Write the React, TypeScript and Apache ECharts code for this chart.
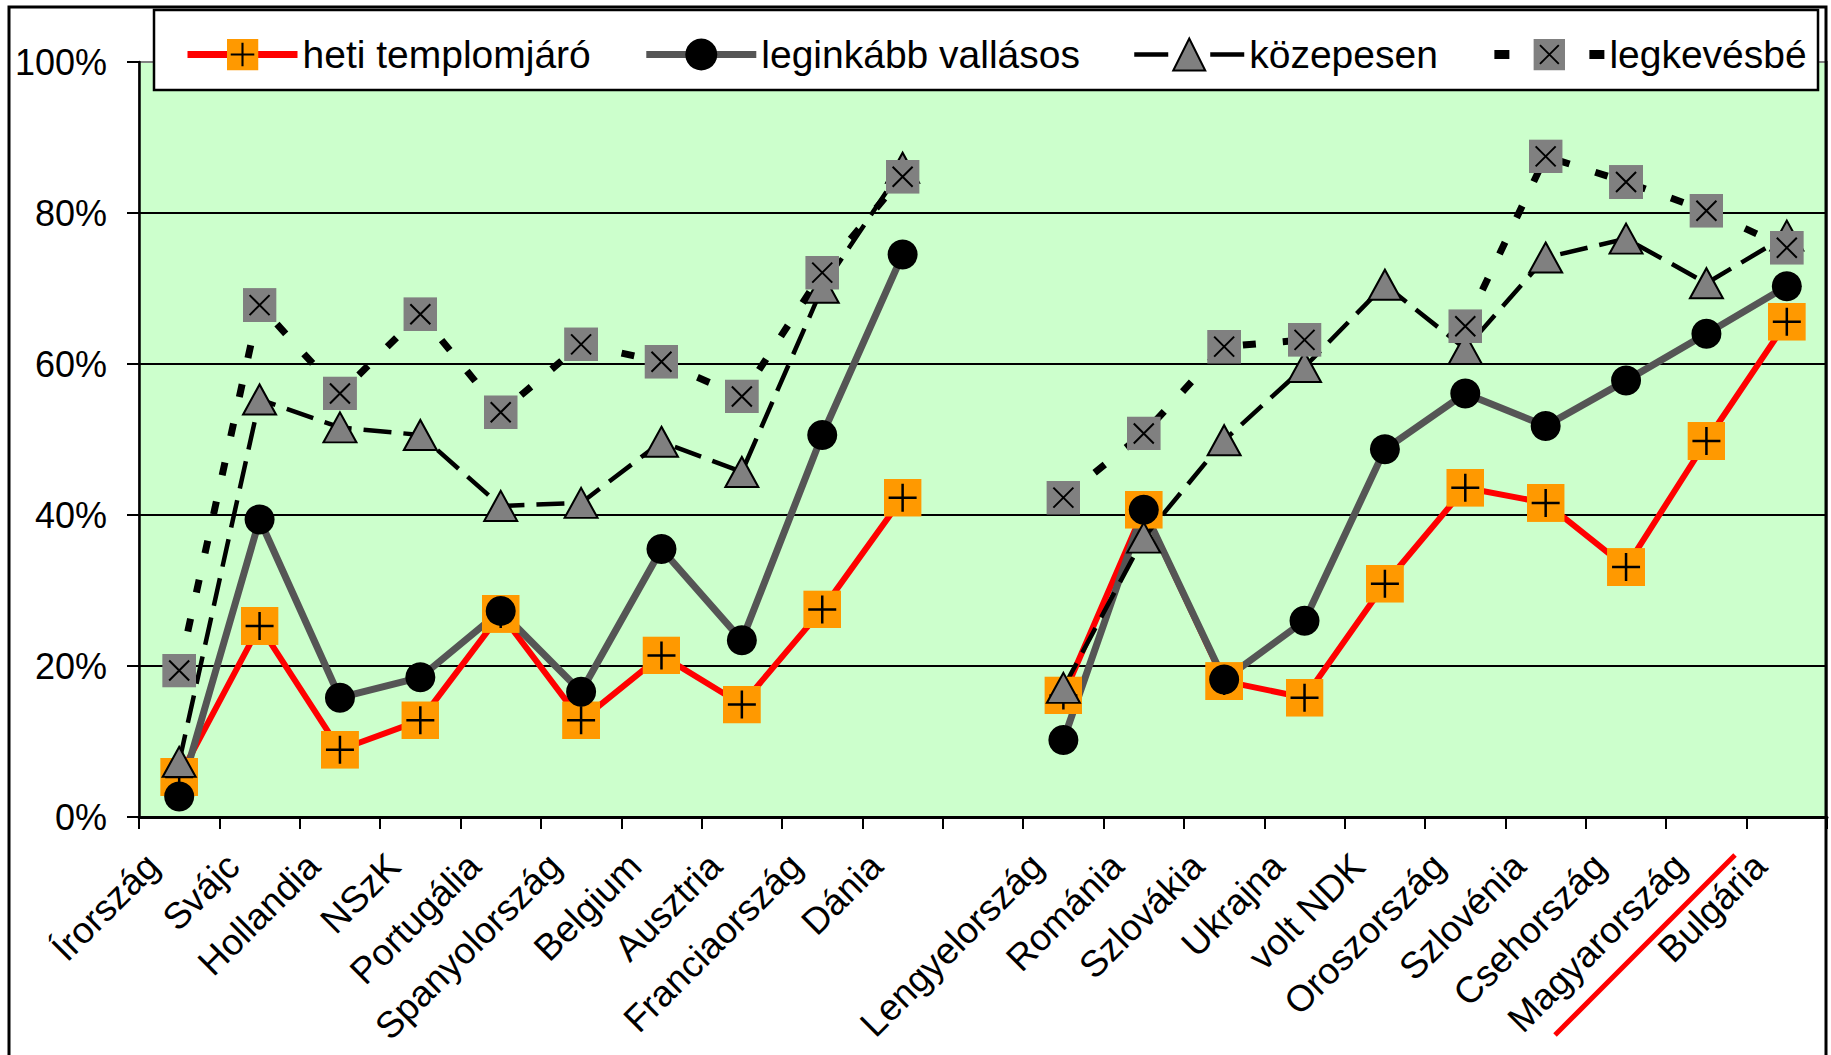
import React, { useEffect, useRef } from 'react';
import * as echarts from 'echarts';

const FONT = '"Liberation Sans", Arial, sans-serif';

const categories = [
  'Írország', 'Svájc', 'Hollandia', 'NSzK', 'Portugália', 'Spanyolország', 'Belgium', 'Ausztria',
  'Franciaország', 'Dánia', '', 'Lengyelország', 'Románia', 'Szlovákia', 'Ukrajna', 'volt NDK',
  'Oroszország', 'Szlovénia', 'Csehország', 'Magyarország', 'Bulgária',
];

const seriesNames = ['heti templomjáró', 'leginkább vallásos', 'közepesen', 'legkevésbé'];

const hetiTemplomjaro = [5.3, 25.3, 8.9, 12.8, 26.9, 12.8, 21.4, 14.9, 27.5, 42.3, null, 16.1, 40.7, 18.0, 15.8, 30.9, 43.6, 41.6, 33.1, 49.8, 65.6];
const leginkabbVallasos = [2.7, 39.4, 15.8, 18.5, 27.3, 16.6, 35.5, 23.4, 50.6, 74.5, null, 10.2, 40.7, 18.2, 26.0, 48.7, 56.1, 51.8, 57.8, 64.0, 70.3];
const kozepesen = [7.3, 55.3, 51.6, 50.6, 41.2, 41.6, 49.7, 45.7, 70.1, 86.0, null, 17.1, 37.0, 49.9, 59.6, 70.5, 62.0, 74.1, 76.6, 70.7, 77.0];
const legkevesbe = [19.4, 67.8, 56.1, 66.6, 53.6, 62.6, 60.3, 55.7, 72.1, 84.8, null, 42.3, 50.8, 62.3, 63.2, null, 65.0, 87.5, 84.1, 80.3, 75.4];

const svgUri = (s: string) => 'image://data:image/svg+xml;charset=utf-8,' + encodeURIComponent(s);

const plusSquare = svgUri(
  "<svg xmlns='http://www.w3.org/2000/svg' width='38' height='38' viewBox='0 0 38 38'>" +
    "<rect x='0' y='0' width='38' height='38' fill='#FF9900'/>" +
    "<path d='M19 5V33M5 19H33' stroke='#000000' stroke-width='2.5' fill='none'/></svg>"
);
const crossSquare = svgUri(
  "<svg xmlns='http://www.w3.org/2000/svg' width='34' height='34' viewBox='0 0 34 34'>" +
    "<rect x='0' y='0' width='34' height='34' fill='#808080'/>" +
    "<path d='M7 7L27 27M27 7L7 27' stroke='#000000' stroke-width='2' fill='none'/></svg>"
);

export default function App() {
  const ref = useRef<HTMLDivElement>(null);

  useEffect(() => {
    document.body.style.margin = '0';
    const chart = echarts.init(ref.current as HTMLDivElement, null, { renderer: 'svg' });
    const option: any = {
      animation: false,
      backgroundColor: '#ffffff',
      textStyle: { fontFamily: FONT },
      grid: {
        left: 139,
        right: 4,
        top: 62,
        bottom: 238,
        show: true,
        backgroundColor: '#CCFFCC',
        borderColor: '#808080',
        borderWidth: 2,
      },
      legend: {
        left: 179,
        top: 30,
        itemWidth: 110,
        itemHeight: 40,
        itemGap: 52,
        selectedMode: false,
        textStyle: { fontSize: 39, color: '#000', fontFamily: FONT },
        data: [
          { name: seriesNames[0], lineStyle: { color: '#FF0000', width: 7, type: 'solid' } },
          { name: seriesNames[1], lineStyle: { color: '#555555', width: 7, type: 'solid' } },
          {
            name: seriesNames[2],
            itemStyle: { color: '#808080', borderColor: '#000', borderWidth: 2 },
            lineStyle: { color: '#000', width: 4.5, type: [34, 42] },
          },
          { name: seriesNames[3], lineStyle: { color: '#000', width: 9, type: [15, 80] } },
        ],
      },
      xAxis: {
        type: 'category',
        data: categories,
        boundaryGap: true,
        axisLine: { show: true, lineStyle: { color: '#000', width: 3 } },
        axisTick: { show: true, length: 12, lineStyle: { color: '#000', width: 2 } },
        axisLabel: {
          interval: 0,
          rotate: 45,
          fontSize: 37,
          color: '#000',
          fontFamily: FONT,
          verticalAlign: 'bottom',
          padding: [0, 6, 13, 0],
          margin: 61,
        },
        splitLine: { show: false },
      },
      yAxis: {
        type: 'value',
        min: 0,
        max: 100,
        interval: 20,
        axisLine: { show: true, lineStyle: { color: '#000', width: 2.5 } },
        axisTick: { show: true, length: 12, lineStyle: { color: '#000', width: 2 } },
        axisLabel: { formatter: '{value}%', fontSize: 36, color: '#000', fontFamily: FONT, margin: 32 },
        splitLine: {
          show: true,
          lineStyle: { color: ['#000', '#000', '#000', '#000', '#000', '#808080'], width: 2 },
        },
      },
      series: [
        {
          name: seriesNames[0],
          type: 'line',
          data: hetiTemplomjaro,
          connectNulls: false,
          symbol: plusSquare,
          symbolSize: 38,
          itemStyle: { color: '#FF0000' },
          lineStyle: { color: '#FF0000', width: 6 },
          emphasis: { disabled: true },
        },
        {
          name: seriesNames[1],
          type: 'line',
          data: leginkabbVallasos,
          connectNulls: false,
          symbol: 'circle',
          symbolSize: 30,
          itemStyle: { color: '#000' },
          lineStyle: { color: '#555555', width: 7 },
          emphasis: { disabled: true },
        },
        {
          name: seriesNames[2],
          type: 'line',
          data: kozepesen,
          connectNulls: false,
          symbol: 'triangle',
          symbolSize: [33, 30],
          itemStyle: { color: '#808080', borderColor: '#000', borderWidth: 2 },
          lineStyle: { color: '#000', width: 4.5, type: [28, 12] },
          emphasis: { disabled: true },
        },
        {
          name: seriesNames[3],
          type: 'line',
          data: legkevesbe,
          connectNulls: false,
          symbol: crossSquare,
          symbolSize: 34,
          itemStyle: { color: '#808080' },
          lineStyle: { color: '#000', width: 7, type: [13, 27] },
          emphasis: { disabled: true },
        },
      ],
      graphic: [
        {
          type: 'rect',
          z: 3,
          silent: true,
          shape: { x: 154, y: 10, width: 1664, height: 80 },
          style: { fill: '#ffffff', stroke: '#000', lineWidth: 2.5 },
        },
        {
          type: 'rect',
          z: 10,
          silent: true,
          shape: { x: 9, y: 7, width: 1817, height: 1100 },
          style: { fill: 'none', stroke: '#000', lineWidth: 3 },
        },
        {
          type: 'line',
          z: 5,
          silent: true,
          shape: { x1: 1555, y1: 1035, x2: 1735, y2: 855 },
          style: { stroke: '#FF0000', lineWidth: 5 },
        },
      ],
    };
    chart.setOption(option);
    return () => chart.dispose();
  }, []);

  return <div ref={ref} style={{ width: 1831, height: 1055 }} />;
}
